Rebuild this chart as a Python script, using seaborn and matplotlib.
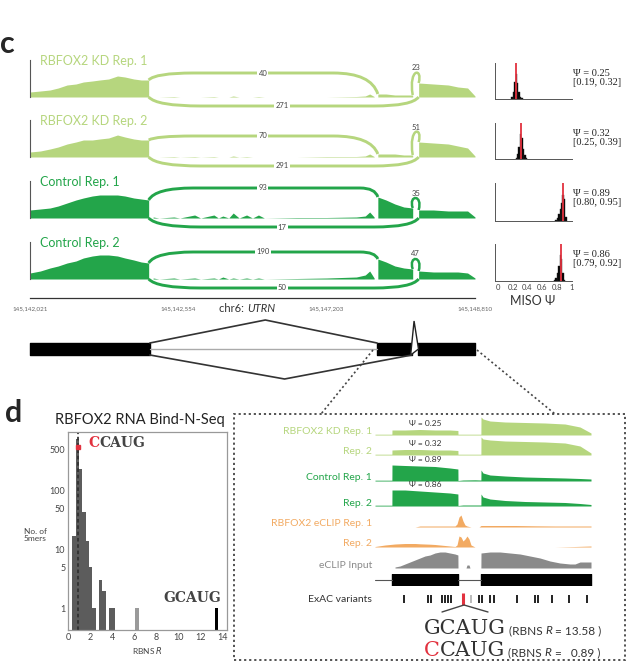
import numpy as np
import pandas as pd
import matplotlib
matplotlib.use("Agg")
import matplotlib.pyplot as plt
from matplotlib.path import Path
from matplotlib.patches import PathPatch, Rectangle, Polygon
from matplotlib.lines import Line2D
from matplotlib.transforms import offset_copy
import seaborn as sns

# ---------------- panel c : sashimi tracks ----------------
track_names = ['RBFOX2 KD Rep. 1', 'RBFOX2 KD Rep. 2', 'Control Rep. 1', 'Control Rep. 2']
genome_ticks = ['145,142,021', '145,142,554', '145,147,203', '145,148,810']

# x in plot units (intron squeezed), 0..3 = the four genome ticks
exon1_x = [0, 0.07, 0.135, 0.19, 0.25, 0.31, 0.36, 0.42, 0.47, 0.53, 0.59, 0.64, 0.70, 0.75, 0.80]
exon1_cov = [[5, 6, 7, 9, 12, 13, 15, 16, 17, 18, 21, 20, 18, 17, 17],
             [5, 6, 8, 10, 13, 15, 17, 17, 18, 19, 22, 20, 18, 17, 17],
             [8, 9, 10, 12, 15, 18, 20, 22, 23, 23, 23, 22, 20, 19, 18],
             [6, 8, 11, 13, 16, 18, 21, 23, 24, 24, 23, 21, 19, 17, 16]]
intron_x = [0.83, 0.87, 0.97, 1.01, 1.11, 1.15, 1.24, 1.27, 1.30, 1.34, 1.37,
            1.41, 1.46, 1.50, 1.54, 1.58, 1.80, 2.00, 2.20, 2.26, 2.29, 2.32]
intron_cov = [[0, 0, 0.5, 0, 0, 0, 0.5, 0, 0, 0, 1, 0, 0, 0, 0.5, 0, 0, 0, 0.5, 1, 3, 0.5],
              [0, 0, 0.5, 0, 0.5, 0, 0.5, 0, 0, 0, 1, 0, 0.5, 0, 0, 0, 0, 0.5, 0.5, 1, 3, 0.5],
              [1, 0, 1, 0, 3, 0, 3, 0, 2, 0, 5, 0, 3, 0, 3, 0, 0.5, 0.5, 1, 2, 6, 1],
              [1, 0, 1, 0, 1, 0, 1, 0, 2, 0, 1, 0, 1, 0, 1, 0, 0.5, 1, 2, 4, 8, 1]]
alt_x = [2.345, 2.40, 2.46, 2.52, 2.58]
alt_cov = [[3, 3, 2, 2, 2], [3, 3, 3, 2, 2], [21, 18, 14, 11, 10], [20, 17, 13, 11, 10]]
last_x = [2.62, 2.72, 2.82, 2.885, 2.95, 3.0]
last_cov = [[14, 13, 12, 10, 9, 1], [15, 14, 13, 11, 9, 1], [8, 8, 7, 7, 7, 1], [8, 7, 7, 7, 6, 1]]

junc_start = [0.80, 0.80, 2.58]
junc_end = [2.345, 2.62, 2.62]
junc_counts = [[40, 271, 23], [70, 291, 51], [93, 17, 35], [190, 50, 47]]

# MISO posterior histograms
miso_psi = [0.25, 0.32, 0.89, 0.86]
miso_lo = [0.19, 0.25, 0.80, 0.79]
miso_hi = [0.32, 0.39, 0.95, 0.92]
miso_bin_left = [[0.18, 0.20, 0.22, 0.24, 0.26, 0.28, 0.30, 0.32],
                 [0.24, 0.26, 0.28, 0.30, 0.32, 0.34, 0.36, 0.38],
                 [0.78, 0.80, 0.82, 0.84, 0.86, 0.88, 0.90, 0.92],
                 [0.76, 0.78, 0.80, 0.82, 0.84, 0.86, 0.88, 0.90]]
miso_counts = [[2, 6, 15, 22, 14, 6, 2, 1],
               [1, 4, 10, 20, 17, 8, 3, 1],
               [1, 2, 5, 9, 14, 20, 17, 3],
               [1, 2, 6, 12, 20, 17, 6, 1]]

# gene model
model_exon_start = [0, 2.345, 2.62]
model_exon_len = [0.81, 0.235, 0.39]

# ---------------- panel d : RBNS histogram ----------------
rbns_bin_left = [0.4, 0.7, 1.0, 1.3, 1.6, 1.9, 2.2, 2.8, 3.1, 3.7, 4.0, 6.1, 13.3]
rbns_counts = [17, 760, 235, 44, 14, 5, 1, 3, 2, 1, 1, 1, 1]
ccaug_r, ccaug_n = 0.89, 560

# ---------------- inset tracks ----------------
inset_names = ['RBFOX2 KD Rep. 1', 'Rep. 2', 'Control Rep. 1', 'Rep. 2',
               'RBFOX2 eCLIP Rep. 1', 'Rep. 2', 'eCLIP Input']
rna_x = [0, 16.9, 17, 30, 45, 60, 75, 82.9, 83, 88, 100, 105.9,
         106, 108, 115, 130, 150, 170, 190, 205, 216]
rna_cov = [[0.8, 0.8, 5, 5, 5.5, 5, 5, 4.5, 0.8, 0.8, 0.8, 0.8, 18, 16, 14, 13, 12.5, 12, 11, 8, 2],
           [0.8, 0.8, 5, 5.5, 5.5, 5, 5, 4.5, 0.8, 0.8, 0.8, 0.8, 18, 16, 15, 14, 13.5, 13, 12, 9, 2],
           [0.8, 0.8, 16, 15.5, 15, 14.5, 13, 12, 0.5, 1, 1.2, 1, 11, 8, 6, 5, 4, 3.5, 3, 2.5, 2],
           [0.8, 0.8, 16, 16, 15, 14, 13, 12, 0.5, 1, 1, 1, 12, 9, 7, 5.5, 4.5, 4, 3.5, 2.5, 1.5]]
eclip_x = [0, 10, 20, 30, 40, 45, 50, 55, 60, 70, 80, 82, 84, 86, 88, 90, 92, 94,
           96, 100, 104, 106, 120, 140, 160, 180, 200, 216]
eclip_cov = [[0, 0, 0, 0, 0, 1, 1, 1, 1, 1, 1, 3, 10, 12, 6, 2, 1, 0.5,
              0, 0, 0, 1.5, 1.5, 1.5, 1.2, 1, 1, 1],
             [0.5, 2, 3, 3.5, 3.5, 3.2, 3, 2.8, 2.5, 1.5, 0.5, 2, 11, 10, 6, 8, 11, 8,
              2, 0, 0, 0, 0, 0, 0, 0, 0.5, 1]]
input_x = [20, 25, 30, 35, 40, 45, 50, 55, 60, 65, 70, 75, 80, 82.9, 83, 91, 92, 94, 95,
           105.9, 106, 115, 125, 135, 145, 155, 165, 175, 185, 195, 200, 205, 210, 216]
input_cov = [1, 2, 4, 6, 8, 10, 12, 13, 15, 16, 16, 15, 14, 13, 0, 0, 3, 3, 0,
             0, 15, 16, 16, 15, 14, 12, 10, 7, 5, 4, 4, 6, 6, 6]
inset_exon_start = [17, 106]
inset_exon_len = [66, 110]
variant_x = [29, 53, 56, 67, 70, 73, 76, 88, 96, 104, 107, 115, 119, 142, 160, 163, 177, 194, 212]
red_variant = 88
faint_variant = 96

# ---------------- style ----------------
sns.set_style("white")
plt.rcParams['font.family'] = ['Lato', 'DejaVu Sans']
KD = '#b6d67e'
CTRL = '#23a54a'
ORANGE = '#f2aa62'
GREY = '#8a8a8a'
RED = '#e2323f'
SERIF = ['DejaVu Serif']

W, H = 639, 669
fig = plt.figure(figsize=(W / 100, H / 100), dpi=100)
renderer = fig.canvas.get_renderer()


def box(l, t, r, b):
    return [l / W, 1 - b / H, (r - l) / W, (b - t) / H]


def fx(x):
    return x / W


def fy(y):
    return 1 - y / H


def chain_text(x, y, parts, transform):
    t = transform
    for s, kw in parts:
        txt = fig.text(x, y, s, transform=t, ha='left', va='baseline', **kw)
        w = txt.get_window_extent(renderer).width
        t = offset_copy(txt.get_transform(), fig=fig, x=w, y=0, units='dots')


def junction(ax, x0, y0, x1, y1, level, r0, r1, color):
    verts = [(x0, y0), (x0 + r0 * 0.15, level), (x0 + r0, level), (x1 - r1, level),
             (x1 - r1 * 0.15, level), (x1, y1)]
    codes = [Path.MOVETO, Path.CURVE3, Path.CURVE3, Path.LINETO, Path.CURVE3, Path.CURVE3]
    ax.add_patch(PathPatch(Path(verts, codes), fc='none', ec=color, lw=2.1, clip_on=False))


def loop(ax, x0, y0, x1, y1, top, color):
    yc = (top - (y0 + y1) / 8) / 0.75
    verts = [(x0, y0), (x0 - 0.03, yc), (x1 + 0.03, yc), (x1, y1)]
    codes = [Path.MOVETO, Path.CURVE4, Path.CURVE4, Path.CURVE4]
    ax.add_patch(PathPatch(Path(verts, codes), fc='none', ec=color, lw=1.8, clip_on=False))


def weighted_hist(ax, left, counts, width, edges, **kw):
    left = np.asarray(left, dtype=float)
    df = pd.DataFrame({'x': left + width / 2, 'w': counts})
    return sns.histplot(data=df, x='x', weights='w', bins=[float(e) for e in edges], ax=ax, **kw)


# ---------------- panel c ----------------
fig.text(0, fy(44), 'c', fontsize=22, fontweight='bold', va='center', ha='left')

track_base = [97, 157, 218, 279]
track_colors = [KD, KD, CTRL, CTRL]
top_level = [24, 21, 30, 27]
for i in range(4):
    b = track_base[i]
    c = track_colors[i]
    ax = fig.add_axes(box(30, b - 38, 475, b + 12))
    ax.set_xlim(0, 3)
    ax.set_ylim(-12, 38)
    ax.patch.set_alpha(0)
    for s in ['top', 'right', 'bottom']:
        ax.spines[s].set_visible(False)
    ax.spines['left'].set_bounds(0, 37)
    ax.spines['left'].set_color('#555555')
    ax.spines['left'].set_linewidth(0.8)
    ax.set_xticks([])
    ax.set_yticks([9, 18, 27, 37])
    ax.tick_params(axis='y', direction='in', length=3, width=0.7, color='#555555', labelleft=False)

    ax.fill_between(exon1_x, 0, exon1_cov[i], color=c, lw=0)
    ax.fill_between(intron_x, 0, intron_cov[i], color=c, lw=0)
    ax.fill_between(alt_x, 0, alt_cov[i], color=c, lw=0)
    ax.fill_between(last_x, 0, last_cov[i], color=c, lw=0)

    inc, skip, small = junc_counts[i]
    r_end = 0.3 if i < 2 else 0.12
    junction(ax, junc_start[0], exon1_cov[i][-1], junc_end[0], alt_cov[i][0],
             top_level[i], 0.3, r_end, c)
    junction(ax, junc_start[1], 0, junc_end[1], 0, -9, 0.35, 0.3, c)
    ltop = max(alt_cov[i][-1], last_cov[i][0]) + 10
    loop(ax, junc_start[2], alt_cov[i][-1], junc_end[2], last_cov[i][0], ltop, c)

    lab = dict(fontsize=5.5, color='#444444', ha='center', va='center',
               bbox=dict(fc='white', ec='none', pad=0.8))
    ax.text(1.57, top_level[i], str(inc), **lab)
    ax.text(1.70, -9, str(skip), **lab)
    ax.text(2.60, ltop + 5, str(small), fontsize=5.5, color='#444444', ha='center', va='center')
    ax.text(0.07, 36, track_names[i], fontsize=9, color=c, ha='left', va='center')

# genome coordinate axis
axg = fig.add_axes(box(30, 282, 475, 298))
axg.set_xlim(0, 3)
axg.set_ylim(0, 1)
axg.patch.set_alpha(0)
for s in ['top', 'right', 'left']:
    axg.spines[s].set_visible(False)
axg.spines['bottom'].set_color('#333333')
axg.spines['bottom'].set_linewidth(0.9)
axg.set_yticks([])
axg.set_xticks([0, 1, 2, 3])
axg.set_xticklabels(genome_ticks, fontsize=4.5, color='#666666')
axg.tick_params(axis='x', direction='in', length=5, width=0.8, pad=6, color='#333333')
fig.text(fx(247), fy(309), 'chr6: ', fontsize=8, color='#333333', ha='right', va='center')
fig.text(fx(247), fy(309), 'UTRN', fontsize=8, color='#333333', ha='left', va='center', style='italic')

# MISO histograms
miso_top = [63, 123, 183, 244]
miso_bot = [99, 159, 221, 281]
for i in range(4):
    ax = fig.add_axes(box(495, miso_top[i], 572, miso_bot[i]))
    left = np.array(miso_bin_left[i])
    edges = np.append(left, left[-1] + 0.02)
    weighted_hist(ax, left, miso_counts[i], 0.02, edges, color='black',
                  alpha=1, edgecolor='#222222', linewidth=0.3)
    ax.axvline(miso_psi[i], color=RED, lw=1.3)
    ax.set_xlim(-0.04, 1.01)
    ymax = max(miso_counts[i]) * 1.45
    ax.set_ylim(0, ymax)
    ax.set_ylabel('')
    ax.set_xlabel('')
    ax.patch.set_alpha(0)
    for s in ['top', 'right']:
        ax.spines[s].set_visible(False)
    for s in ['left', 'bottom']:
        ax.spines[s].set_color('#555555')
        ax.spines[s].set_linewidth(0.7)
    ax.set_yticks(np.linspace(0, ymax, 5)[1:])
    ax.set_xticks([0, 0.2, 0.4, 0.6, 0.8, 1.0])
    ax.tick_params(direction='in', length=2, width=0.6, color='#555555', labelleft=False)
    if i == 3:
        ax.set_xticklabels(['0', '0.2', '0.4', '0.6', '0.8', '1'], fontsize=5.5, color='#444444')
        ax.tick_params(axis='x', pad=2)
    else:
        ax.tick_params(labelbottom=False)
    fig.text(fx(573), fy(miso_top[i] + 15),
             'Ψ = %.2f\n[%.2f, %.2f]' % (miso_psi[i], miso_lo[i], miso_hi[i]),
             fontsize=7.5, family=['Liberation Serif', 'DejaVu Serif'], color='#222222',
             ha='left', va='center', linespacing=0.9)
fig.text(fx(533), fy(301), 'MISO Ψ', fontsize=9, color='#333333', ha='center', va='center')

# gene model
axm = fig.add_axes(box(20, 312, 490, 402))
axm.set_xlim(-10 / 148, 460 / 148)
axm.set_ylim(402, 312)
axm.axis('off')
axm.plot([model_exon_start[0] + model_exon_len[0], model_exon_start[1]], [348.5, 348.5],
         color='#aaaaaa', lw=1)
axm.broken_barh(list(zip(model_exon_start, model_exon_len)), (343, 12), color='black')
exon1_end = model_exon_start[0] + model_exon_len[0]
axm.plot([exon1_end, 1.59, model_exon_start[1]], [343, 320, 343], color='#333333', lw=1.2)
axm.plot([exon1_end, 1.72, junc_start[2]], [355, 379, 355], color='#333333', lw=1.2)
axm.add_patch(Polygon([(2.572, 355), (2.595, 321), (2.625, 349)], closed=True,
                      fc='white', ec='#222222', lw=1))

# zoom connector lines and inset box
dot = dict(color='#444444', lw=1.2, ls=(0, (1.2, 1.6)), transform=fig.transFigure)
fig.add_artist(Line2D([fx(373), fx(321)], [fy(350), fy(414)], **dot))
fig.add_artist(Line2D([fx(477), fx(555)], [fy(350), fy(414)], **dot))
fig.add_artist(Rectangle((fx(234), fy(660)), fx(625) - fx(234), fy(414) - fy(660),
                         fill=False, ec='#444444', lw=1.3, ls=(0, (1.2, 1.6)),
                         transform=fig.transFigure))

# ---------------- inset tracks ----------------
inset_base = [435, 455, 481, 506, 527, 547, 568]
inset_colors = [KD, KD, CTRL, CTRL, ORANGE, ORANGE, GREY]
for i in range(7):
    b = inset_base[i]
    ax = fig.add_axes(box(375, b - 22, 595, b))
    ax.set_xlim(0, 220)
    ax.set_ylim(0, 22)
    ax.axis('off')
    c = inset_colors[i]
    if i < 4:
        ax.fill_between(rna_x, 0, rna_cov[i], color=c, lw=0)
        ex1 = max(rna_cov[i][2:8])
        ax.text(50, ex1 + 2, 'Ψ = %.2f' % miso_psi[i], fontsize=6, color='#333333',
                ha='center', va='bottom')
    elif i < 6:
        ax.fill_between(eclip_x, 0, eclip_cov[i - 4], color=c, lw=0)
    else:
        ax.fill_between(input_x, 0, input_cov, color=c, lw=0)
    ax.text(-3, 3, inset_names[i], fontsize=7.5, color=c, ha='right', va='center')

axe = fig.add_axes(box(375, 574, 595, 586))
axe.set_xlim(0, 220)
axe.set_ylim(0, 1)
axe.axis('off')
axe.plot([0, inset_exon_start[0]], [0.5, 0.5], color='#555555', lw=0.8)
axe.plot([inset_exon_start[0] + inset_exon_len[0], inset_exon_start[1]], [0.5, 0.5],
         color='#555555', lw=0.8)
axe.broken_barh(list(zip(inset_exon_start, inset_exon_len)), (0, 1), color='black')

axv = fig.add_axes(box(375, 590, 595, 615))
axv.set_xlim(0, 220)
axv.set_ylim(25, 0)
axv.axis('off')
plain = [v for v in variant_x if v not in (red_variant, faint_variant)]
axv.vlines(plain, 5, 13, color='#222222', lw=1.4)
axv.vlines([faint_variant], 5, 13, color='#bbbbbb', lw=1.4)
axv.vlines([red_variant], 3, 15, color=RED, lw=2.2)
axv.plot([67, red_variant + 1, 113], [22, 15, 22], color='#444444', lw=1)
axv.text(-3, 9, 'ExAC variants', fontsize=7.5, color='#333333', ha='right', va='center')

big = dict(fontsize=15, family=SERIF, color='#333333')
small = dict(fontsize=8.5, color='#333333')
chain_text(fx(424), fy(634), [('GCAUG', big), (' (RBNS ', small),
                              ('R', dict(small, style='italic')), (' = 13.58 )', small)],
           fig.transFigure)
chain_text(fx(424), fy(656), [('C', dict(big, color=RED)), ('CAUG', big), (' (RBNS ', small),
                              ('R', dict(small, style='italic')), (' =   0.89 )', small)],
           fig.transFigure)

# ---------------- panel d ----------------
fig.text(fx(5), fy(413), 'd', fontsize=22, fontweight='bold', va='center', ha='left')
axd = fig.add_axes(box(68, 432, 227, 630))
edges = [0.4 + 0.3 * k for k in range(45)]
weighted_hist(axd, rbns_bin_left, rbns_counts, 0.3, edges,
              color='#5c5c5c', alpha=1, edgecolor='none')
for p in axd.patches:
    if abs(p.get_x() - 6.1) < 0.05:
        p.set_facecolor('#9a9a9a')
    if abs(p.get_x() - 13.3) < 0.05:
        p.set_facecolor('black')
axd.set_yscale('log')
axd.set_ylim(0.43, 1000)
axd.set_xlim(0, 14.4)
axd.set_yticks([1, 5, 10, 50, 100, 500])
axd.set_yticklabels(['1', '5', '10', '50', '100', '500'])
axd.yaxis.set_minor_locator(matplotlib.ticker.NullLocator())
axd.set_xticks(range(0, 15, 2))
axd.tick_params(labelsize=6.5, labelcolor='#444444', length=0, pad=2)
for s in axd.spines.values():
    s.set_color('#999999')
    s.set_linewidth(0.9)
axd.set_ylabel('')
axd.set_xlabel('RBNS $R$', fontsize=6, color='#444444', labelpad=2)
axd.set_title('RBFOX2 RNA Bind-N-Seq', fontsize=10.5, color='#222222', pad=6, x=0.45)
axd.axvline(0.9, color='#333333', lw=1.3, ls=(0, (2, 1.5)))
axd.plot([ccaug_r], [ccaug_n], 's', color=RED, ms=3.5)
fig.text(fx(35), fy(535), 'No. of\n5mers', fontsize=6, color='#444444', ha='center',
         va='center', linespacing=1.1)
dx, dy = fx(88), fy(447)
slab = dict(fontsize=10, family=SERIF, fontweight='bold')
chain_text(dx, dy, [('C', dict(slab, color=RED)), ('CAUG', dict(slab, color='#444444'))],
           fig.transFigure)
axd.text(13.9, 1.5, 'GCAUG', ha='right', va='center', fontsize=10, family=SERIF,
         fontweight='bold', color='#444444')

fig.savefig('out.png', dpi=100)
